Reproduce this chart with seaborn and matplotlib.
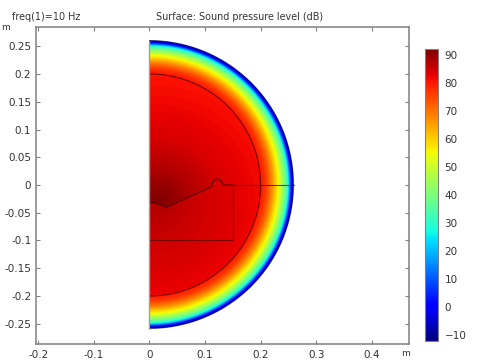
import numpy as np
import matplotlib
matplotlib.use('Agg')
import matplotlib.pyplot as plt
import seaborn as sns

# SPL (dB)
# air domain, by distance from the horn throat
throat_dist = [0.0, 0.03, 0.06, 0.095, 0.112, 0.17, 0.23, 0.3]
throat_spl = [92, 90, 87.5, 85.3, 84, 82, 80.5, 80.5]
# behind the horn wall
behind_dist = [0.0, 0.07, 0.1]
behind_spl = [87.5, 85, 84]
# outer layer, by radius
pml_r = [0.2, 0.21, 0.22, 0.234, 0.243, 0.249, 0.2525, 0.2555, 0.26]
pml_spl = [80.5, 76, 68, 53, 40, 30, 15, 0, -12]

# geometry outlines
box_x = [0, 0.15, 0.15, 0.26]
box_y = [-0.1, -0.1, 0, 0]
horn_x = [0, 0.008, 0.018, 0.031, 0.112, 0.113, 0.117, 0.122, 0.127, 0.131, 0.133, 0.15]
horn_y = [-0.032, -0.032, -0.035, -0.04, -0.003, 0.004, 0.009, 0.011, 0.009, 0.004, 0, 0]
throat = (0.015, -0.032)
inner_r = 0.2
outer_r = 0.26

x_ticks = [-0.2, -0.1, 0, 0.1, 0.2, 0.3, 0.4]
y_ticks = [-0.25, -0.2, -0.15, -0.1, -0.05, 0, 0.05, 0.1, 0.15, 0.2, 0.25]
cbar_ticks = [-10, 0, 10, 20, 30, 40, 50, 60, 70, 80, 90]

sns.set_style('ticks')
plt.rcParams['font.family'] = ['DejaVu Sans']
text_col = '#333333'
edge_col = '#808080'
line_col = '#600000'

fig = plt.figure(figsize=(4.79, 3.6), dpi=100)
ax = fig.add_axes([35.5 / 479, 1 - 344 / 360, (409 - 35.5) / 479, (344 - 26.5) / 360])

# Surface: look the tables up on a fine grid
gx = np.linspace(0, 0.262, 1048)
gy = np.linspace(-0.262, 0.262, 2096)
X, Y = np.meshgrid(gx, gy)
R = np.hypot(X, Y)
D = np.hypot(X - throat[0], Y - throat[1])
field = np.interp(D, throat_dist, throat_spl)
# below the horn wall the level drops suddenly
below = (Y < np.interp(X, horn_x, horn_y)) & (X < 0.133)
field[below] = np.minimum(field[below], np.interp(D[below], behind_dist, behind_spl))
field[R > inner_r] = np.interp(R[R > inner_r], pml_r, pml_spl)
field = np.ma.masked_where(R > outer_r, field)
mesh = ax.imshow(field, origin='lower', extent=[gx[0], gx[-1], gy[0], gy[-1]], cmap='jet',
                 vmin=-12, vmax=92, aspect='auto', interpolation='antialiased',
                 interpolation_stage='rgba')

# boundary lines
arc_a = np.radians(np.arange(-90, 91, 2))
sns.lineplot(x=inner_r * np.cos(arc_a), y=inner_r * np.sin(arc_a), sort=False, estimator=None,
             color=line_col, lw=0.7, ax=ax)
sns.lineplot(x=box_x, y=box_y, sort=False, estimator=None, color=line_col, lw=0.8, alpha=0.8, ax=ax)
sns.lineplot(x=horn_x, y=horn_y, sort=False, estimator=None, color='#500000', lw=0.8, ax=ax)
ax.plot([0, 0], [-outer_r, outer_r], color='#a0a0a0', lw=1.0)

ax.set_xlim(-0.205, 0.467)
ax.set_ylim(-0.2865, 0.2856)
ax.set_xticks(x_ticks)
ax.set_xticklabels(['-0.2', '-0.1', '0', '0.1', '0.2', '0.3', '0.4'])
ax.set_yticks(y_ticks)
ax.set_yticklabels(['-0.25', '-0.2', '-0.15', '-0.1', '-0.05', '0', '0.05', '0.1', '0.15', '0.2', '0.25'])
ax.tick_params(direction='in', top=True, right=True, length=3, width=0.8, color=edge_col,
               labelsize=7.5, labelcolor=text_col, pad=3)
ax.tick_params(axis='x', pad=4)
for s in ax.spines.values():
    s.set_color(edge_col)
    s.set_linewidth(1.1)

fig.text(12 / 479, 1 - 17 / 360, 'freq(1)=10 Hz', fontsize=6.9, color=text_col, va='center')
fig.text(239.5 / 479, 1 - 17 / 360, 'Surface: Sound pressure level (dB)', fontsize=6.9, color=text_col,
         va='center', ha='center')
fig.text(5 / 479, 1 - 27 / 360, 'm', fontsize=6.5, color=text_col, va='center', ha='center')
fig.text(405 / 479, 1 - 353 / 360, 'm', fontsize=6.5, color=text_col, va='center', ha='center')

# colour bar
cax = fig.add_axes([425 / 479, 1 - 340.5 / 360, 12.5 / 479, 291.5 / 360])
cb = fig.colorbar(mesh, cax=cax, ticks=cbar_ticks)
cb.ax.tick_params(length=0, labelsize=7.5, labelcolor=text_col, pad=5)
cb.outline.set_edgecolor(edge_col)
cb.outline.set_linewidth(0.8)

fig.savefig('out.png', dpi=100)
